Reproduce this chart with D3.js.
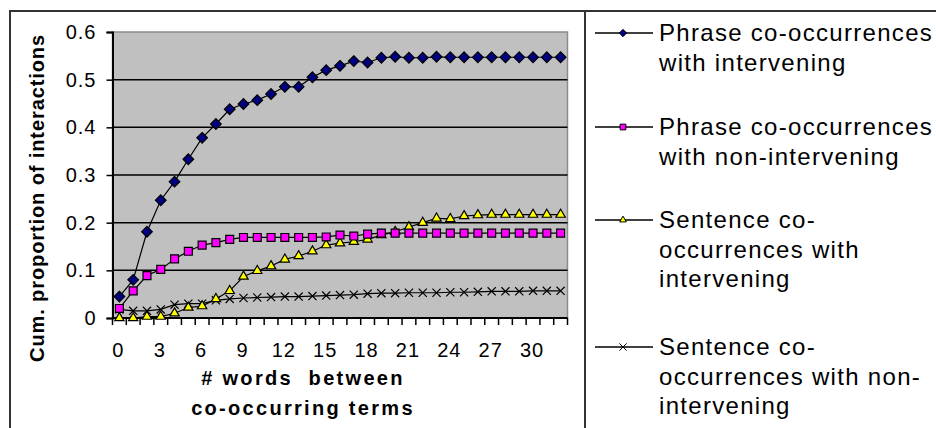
<!DOCTYPE html>
<html>
<head>
<meta charset="utf-8">
<script src="https://cdn.jsdelivr.net/npm/d3@7"></script>
<style>
  body { margin: 0; background: #fff; }
  svg { display: block; font-family: "Liberation Sans", Arial, sans-serif; }
</style>
</head>
<body>
<div id="chart"></div>
<script>
// words between co-occurring terms (categories)
const wordGaps = [0, 1, 2, 3, 4, 5, 6, 7, 8, 9, 10, 11, 12, 13, 14, 15, 16,
  17, 18, 19, 20, 21, 22, 23, 24, 25, 26, 27, 28, 29, 30, 31, 32];

const phraseIntervening = [0.045, 0.080, 0.181, 0.247, 0.286, 0.333, 0.378, 0.407, 0.438, 0.449,
  0.457, 0.470, 0.485, 0.485, 0.505, 0.520, 0.529, 0.539, 0.536, 0.546, 0.548, 0.546, 0.546,
  0.548, 0.547, 0.547, 0.547, 0.547, 0.547, 0.547, 0.547, 0.547, 0.547];

const phraseNonIntervening = [0.020, 0.057, 0.089, 0.102, 0.124, 0.140, 0.153, 0.158, 0.165, 0.169,
  0.169, 0.169, 0.169, 0.169, 0.169, 0.170, 0.174, 0.172, 0.176, 0.178, 0.178, 0.178, 0.178,
  0.178, 0.178, 0.178, 0.178, 0.178, 0.178, 0.178, 0.178, 0.178, 0.178];

const sentenceIntervening = [0.000, 0.000, 0.003, 0.003, 0.010, 0.022, 0.025, 0.040, 0.057, 0.087,
  0.099, 0.109, 0.123, 0.130, 0.140, 0.153, 0.157, 0.160, 0.165, 0.174, 0.181, 0.191, 0.200,
  0.209, 0.208, 0.214, 0.216, 0.217, 0.217, 0.217, 0.217, 0.217, 0.217];

const sentenceNonIntervening = [0.018, 0.015, 0.015, 0.018, 0.028, 0.030, 0.030, 0.037, 0.040, 0.042,
  0.043, 0.044, 0.045, 0.045, 0.046, 0.047, 0.048, 0.049, 0.051, 0.052, 0.052, 0.053, 0.053,
  0.053, 0.054, 0.054, 0.055, 0.056, 0.056, 0.056, 0.057, 0.057, 0.057];

const yTicks = [0, 0.1, 0.2, 0.3, 0.4, 0.5, 0.6];
const xTickLabels = [0, 3, 6, 9, 12, 15, 18, 21, 24, 27, 30];

const legendLines = [
  ["Phrase co-occurrences", "with intervening"],
  ["Phrase co-occurrences", "with non-intervening"],
  ["Sentence co-", "occurrences with", "intervening"],
  ["Sentence co-", "occurrences with non-", "intervening"]
];

const width = 936, height = 428;
const plot = { left: 112.5, right: 567.5, top: 32, bottom: 318 };

const svg = d3.select("#chart").append("svg")
  .attr("width", width)
  .attr("height", height);

// outer frames (chart area + legend area)
svg.append("path")
  .attr("d", `M10,${height + 2}V11H${width + 2}M585,11V${height + 2}`)
  .attr("fill", "none")
  .attr("stroke", "#333")
  .attr("stroke-width", 2);

const x = d3.scaleBand()
  .domain(wordGaps)
  .range([plot.left, plot.right]);

const y = d3.scaleLinear()
  .domain([0, 0.6])
  .range([plot.bottom, plot.top]);

const cx = d => x(d) + x.bandwidth() / 2;

// plot background
svg.append("rect")
  .attr("x", plot.left)
  .attr("y", plot.top)
  .attr("width", plot.right - plot.left)
  .attr("height", plot.bottom - plot.top)
  .attr("fill", "#c0c0c0")
  .attr("stroke", "#8c8c8c")
  .attr("stroke-width", 1.5);

// gridlines
svg.append("g")
  .selectAll("line")
  .data(yTicks.filter(t => t > 0 && t < 0.6))
  .enter()
  .append("line")
  .attr("x1", plot.left)
  .attr("x2", plot.right)
  .attr("y1", d => y(d))
  .attr("y2", d => y(d))
  .attr("stroke", "#000")
  .attr("stroke-width", 1.5);

// y axis
const yAxis = svg.append("g")
  .attr("transform", `translate(${plot.left},0)`)
  .call(d3.axisLeft(y).tickValues(yTicks).tickSize(6).tickPadding(10)
    .tickFormat(d => d === 0 ? "0" : d3.format(".1f")(d)));
yAxis.select(".domain").attr("stroke", "#000").attr("stroke-width", 2);
yAxis.selectAll(".tick line").attr("stroke", "#000").attr("stroke-width", 1.5);
yAxis.selectAll("text")
  .style("font-size", "20px")
  .style("letter-spacing", "1px")
  .attr("fill", "#000");

// x axis: ticks on category boundaries
const xAxis = svg.append("g")
  .attr("transform", `translate(0,${plot.bottom})`);
xAxis.append("line")
  .attr("x1", plot.left)
  .attr("x2", plot.right)
  .attr("stroke", "#000")
  .attr("stroke-width", 2);
xAxis.selectAll(".xtick")
  .data(wordGaps.concat([null]))
  .enter()
  .append("line")
  .attr("class", "xtick")
  .attr("x1", (d, i) => plot.left + i * x.step())
  .attr("x2", (d, i) => plot.left + i * x.step())
  .attr("y1", 0)
  .attr("y2", 7)
  .attr("stroke", "#000")
  .attr("stroke-width", 1.5);
xAxis.selectAll(".xlabel")
  .data(xTickLabels)
  .enter()
  .append("text")
  .attr("class", "xlabel")
  .attr("x", d => cx(d) - 1)
  .attr("y", 39)
  .attr("text-anchor", "middle")
  .style("font-size", "20px")
  .style("letter-spacing", "1px")
  .text(d => d);

// axis titles
svg.append("text")
  .attr("transform", "translate(44,198) rotate(-90)")
  .attr("text-anchor", "middle")
  .style("font-size", "20px")
  .style("font-weight", "bold")
  .style("letter-spacing", "0.9px")
  .text("Cum. proportion of interactions");

const xTitle = svg.append("text")
  .attr("text-anchor", "middle")
  .style("font-size", "20px")
  .style("font-weight", "bold")
  .style("letter-spacing", "2.3px")
  .style("white-space", "pre");
xTitle.append("tspan").attr("x", 303).attr("y", 385).text("# words  between");
xTitle.append("tspan").attr("x", 303).attr("y", 415).text("co-occurring terms");

// markers (plot size, legend size)
const series = [
  { values: phraseIntervening, type: d3.symbolDiamond2, size: 72, legendSize: 34, fill: "#000080" },
  { values: phraseNonIntervening, type: d3.symbolSquare2, size: 80, legendSize: 42, fill: "#ff00ff" },
  { values: sentenceIntervening, type: d3.symbolTriangle2, size: 62, legendSize: 32, fill: "#ffff00" },
  { values: sentenceNonIntervening, type: d3.symbolX, size: 45, legendSize: 36, fill: "none" }
];

const line = d3.line()
  .x((d, i) => cx(wordGaps[i]))
  .y(d => y(d));

// draw back to front so the first series ends on top
series.slice().reverse().forEach(s => {
  const g = svg.append("g");
  g.append("path")
    .datum(s.values)
    .attr("d", line)
    .attr("fill", "none")
    .attr("stroke", "#000")
    .attr("stroke-width", 1.2);
  g.selectAll("path.mk")
    .data(s.values)
    .enter()
    .append("path")
    .attr("class", "mk")
    .attr("transform", (d, i) => `translate(${cx(wordGaps[i])},${y(d)})`)
    .attr("d", d3.symbol().type(s.type).size(s.size))
    .attr("fill", s.fill)
    .attr("stroke", "#000")
    .attr("stroke-width", 1.2);
});

// legend
const legendY = [33, 127, 220, 347];
const legend = svg.append("g");
series.forEach((s, i) => {
  const g = legend.append("g").attr("transform", `translate(0,${legendY[i]})`);
  g.append("line")
    .attr("x1", 595)
    .attr("x2", 653)
    .attr("stroke", "#000")
    .attr("stroke-width", 1.3);
  g.append("path")
    .attr("transform", "translate(623,0)")
    .attr("d", d3.symbol().type(s.type).size(s.legendSize))
    .attr("fill", s.fill)
    .attr("stroke", "#000")
    .attr("stroke-width", 1);
  const t = g.append("text")
    .style("font-size", "24px")
    .style("letter-spacing", "1.3px")
    .attr("fill", "#000");
  legendLines[i].forEach((l, j) => {
    t.append("tspan")
      .attr("x", 659)
      .attr("y", 8 + j * 29.5)
      .text(l);
  });
});
</script>
</body>
</html>
